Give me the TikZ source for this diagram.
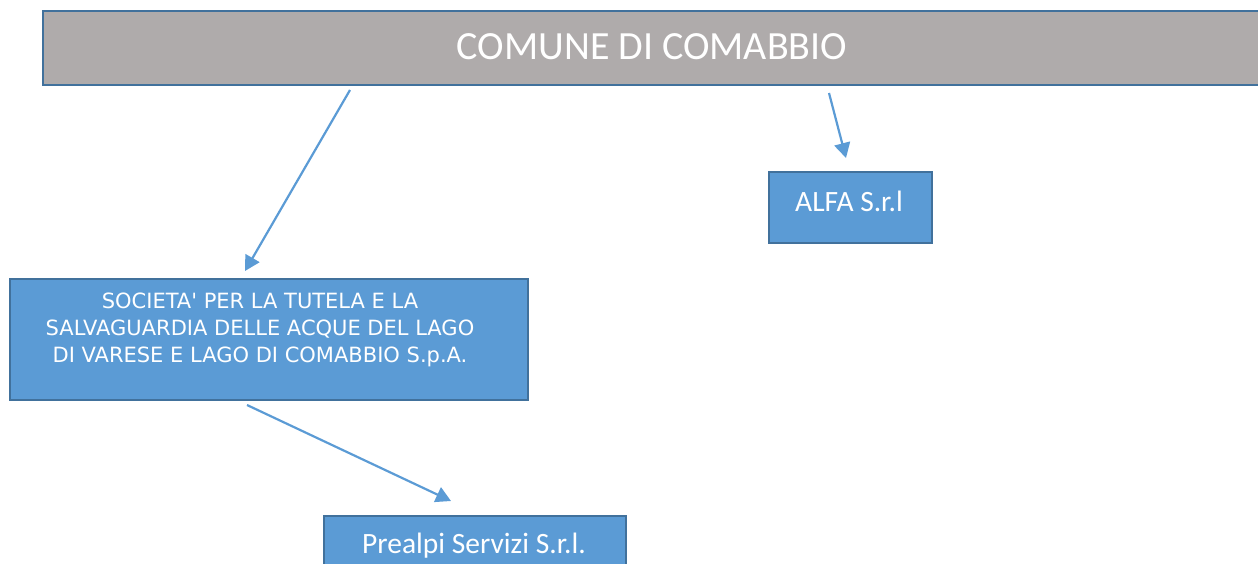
\documentclass[tikz,border=0pt]{standalone}
\usepackage{fontspec}
\setmainfont{Carlito}
\newfontfamily\verd{DejaVu Sans}
\usetikzlibrary{arrows.meta}
\definecolor{boxblue}{HTML}{5B9BD5}
\definecolor{edgeblue}{HTML}{41719C}
\definecolor{titlegray}{HTML}{AFABAB}
\tikzset{
  box/.style={draw=edgeblue, line width=2pt, fill=boxblue, inner sep=0pt},
  graybox/.style={draw=edgeblue, line width=2pt, fill=titlegray, inner sep=0pt},
  lbl/.style={text=white, inner sep=0pt, align=center},
  conn/.style={draw=boxblue, line width=2.2pt, -{Triangle[length=15pt,width=16pt]}},
}
\begin{document}
\begin{tikzpicture}[x=1pt,y=-1pt]
\useasboundingbox (0,0) rectangle (1258,564);
% top box
\node[graybox, minimum width=1240pt, minimum height=74pt, anchor=north west] (comune) at (42,10) {};
\node[lbl, font=\fontsize{40}{44}\selectfont] (comuneT) at (652,47) {COMUNE DI COMABBIO};
% ALFA
\node[box, minimum width=163pt, minimum height=71pt, anchor=north west] (alfa) at (768,171) {};
\node[lbl, font=\fontsize{29.5}{32}\selectfont] (alfaT) at (849,201) {ALFA S.r.l};
% Societa
\node[box, minimum width=518pt, minimum height=121pt, anchor=north west] (soc) at (9,278) {};
\node[lbl, font=\verd\fontsize{21}{27}\selectfont] (socT) at (260,330) {SOCIETA' PER LA TUTELA E LA\\SALVAGUARDIA DELLE ACQUE DEL LAGO\\DI VARESE E LAGO DI COMABBIO S.p.A.};
% Prealpi
\node[box, minimum width=302pt, minimum height=80pt, anchor=north west] (prealpi) at (323,515) {};
\node[lbl, font=\fontsize{29.5}{32}\selectfont] (prealpiT) at (474,546) {Prealpi Servizi S.r.l.};
% connectors
\coordinate (a1s) at (350,90);
\coordinate (a1e) at (245,271);
\coordinate (a2s) at (829,93);
\coordinate (a2e) at (846,158);
\coordinate (a3s) at (247,405);
\coordinate (a3e) at (451,501);
\draw[conn] (a1s) -- (a1e);
\draw[conn] (a2s) -- (a2e);
\draw[conn] (a3s) -- (a3e);
\end{tikzpicture}
\end{document}
